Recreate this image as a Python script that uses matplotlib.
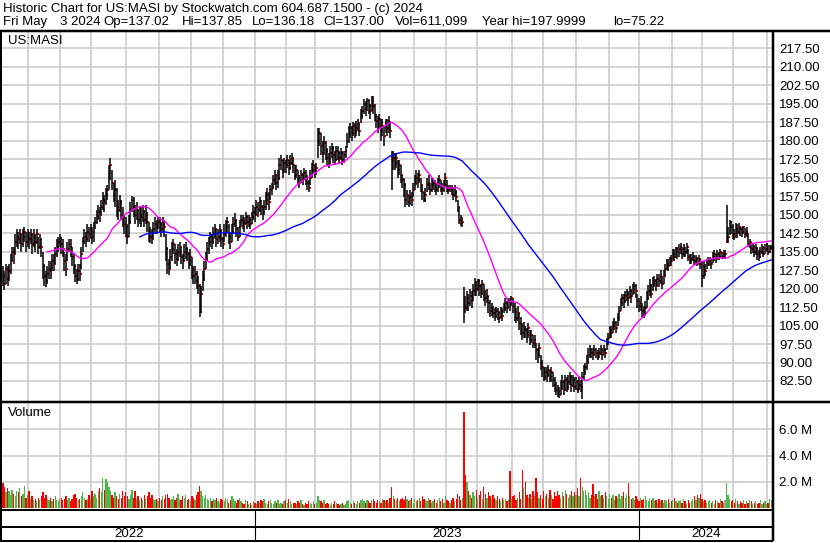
import matplotlib
matplotlib.use('Agg')
import matplotlib.pyplot as plt
import numpy as np
import pandas as pd
from matplotlib.lines import Line2D

W, H = 830, 543
plt.rcParams['font.family'] = ['Liberation Sans', 'DejaVu Sans']

# NYSE holidays in the date span
holidays = ['2022-05-30', '2022-06-20', '2022-07-04', '2022-09-05', '2022-11-24',
            '2022-12-26', '2023-01-02', '2023-01-16', '2023-02-20', '2023-04-07',
            '2023-05-29', '2023-06-19', '2023-07-04', '2023-09-04', '2023-11-23',
            '2023-12-25', '2024-01-01', '2024-01-15', '2024-02-19', '2024-03-29']

# daily close / high / low (May 6 2022 .. May 3 2024)
close = [
    125, 122, 128, 124, 127, 131, 135, 134, 139, 141,
    140, 142, 138, 141, 143, 139, 141, 140, 142, 138,
    141, 139, 142, 137, 140, 137, 129, 125, 123, 126,
    128, 127, 131, 130, 134, 137, 139, 140, 138, 136,
    131, 128, 136, 138, 137, 133, 129, 125, 124, 127,
    126, 134, 139, 141, 140, 143, 142, 144, 141, 143,
    147, 149, 151, 150, 153, 156, 155, 158, 160, 167,
    170, 163, 158, 160, 153, 152, 155, 150, 149, 146,
    145, 141, 147, 152, 156, 153, 150, 152, 148, 150,
    149, 151, 148, 150, 147, 143, 141, 140, 144, 146,
    145, 147, 146, 144, 146, 145, 136, 130, 128, 133,
    136, 138, 134, 132, 135, 137, 133, 131, 135, 136,
    134, 131, 133, 128, 125, 126, 123, 121, 110.6, 118,
    124, 128, 132, 136, 139, 141, 139, 142, 144, 140,
    141, 143, 140, 138, 142, 145, 147, 141, 139, 143,
    146, 148, 144, 141, 145, 148, 147, 146, 149, 147,
    148, 146, 149, 151, 150, 153, 152, 155, 153, 151,
    153, 156, 158, 155, 160, 161, 164, 166, 163, 165,
    170, 172, 168, 171, 170, 172, 169, 171, 173, 170,
    166, 168, 165, 163, 166, 164, 167, 165, 163, 161,
    165, 168, 170, 167, 169, 180, 183, 178, 175, 179,
    176, 173, 171, 175, 177, 174, 172, 176, 175, 173,
    175, 172, 174, 176, 180, 183, 185, 183, 186, 184,
    185, 187, 184, 190, 192, 195, 193, 196, 194, 192,
    196, 194, 190, 188, 186, 189, 184, 186, 182, 187,
    185, 188, 184, 172, 173, 171, 173, 168, 170, 166,
    164, 162, 156, 158, 155, 157, 156, 160, 163, 165,
    164, 166, 162, 159, 156, 158, 162, 163, 160, 162,
    163, 161, 160, 162, 164, 161, 160, 162, 165, 161,
    160, 161, 160, 158, 159, 157, 153, 148, 146.5, 147,
    113, 112, 116, 114, 117, 115, 119, 121, 120, 123,
    121, 118, 122, 119, 116, 117, 114, 111, 112, 110,
    109, 111, 110, 108, 111, 109, 112, 114, 112, 115,
    114, 116, 113, 111, 108, 110, 106, 105, 102, 104,
    103, 101, 104, 99, 101, 98, 99, 95, 93, 96,
    90, 88, 84, 86, 85, 87, 84, 86, 83, 81,
    79, 78, 77, 80, 82, 79, 83, 80, 82, 84,
    81, 83, 80, 82, 79, 81, 80, 84, 86, 88,
    90, 93, 95, 94, 93, 95, 94, 92, 94, 95,
    93, 95, 94, 98, 100, 103, 102, 105, 106, 104,
    108, 111, 114, 116, 115, 117, 118, 116, 119, 117,
    120, 121, 119, 115, 113, 114, 111, 110, 112, 116,
    119, 121, 118, 122, 123, 121, 124, 123, 125, 122,
    125, 128, 130, 129, 132, 131, 134, 133, 136, 135,
    136, 137, 134, 136, 135, 137, 133, 131, 132, 133,
    131, 132, 130, 132, 130, 125, 129, 127, 130, 131,
    132, 130, 133, 134, 132, 134, 133, 135, 133, 134,
    134, 139, 141, 147, 145, 142, 141, 144, 143, 145,
    144, 143, 145, 142, 143, 138, 139, 136, 137, 135,
    136, 134, 133, 135, 137, 134, 136, 138, 135, 136, 137.00,
]
high = [
    129, 127, 130, 129, 130, 134, 137, 137, 142, 144,
    143, 144, 142, 144, 145, 143, 144, 143, 144, 142,
    144, 142, 144, 141, 142, 140, 135, 130, 127, 129,
    131, 131, 134, 134, 137, 140, 141, 142, 141, 140,
    135, 134, 139, 140, 140, 137, 134, 130, 128, 130,
    130, 137, 141, 144, 143, 146, 145, 146, 145, 147,
    149, 152, 154, 153, 156, 159, 158, 161, 162, 170,
    173, 168, 163, 164, 161, 156, 158, 156, 153, 150,
    149, 146, 150, 155, 157.5, 157, 154, 155, 152, 153,
    153, 154, 152, 154, 151, 147, 145, 144, 147, 149,
    148, 149, 149, 147, 149, 148, 142, 137, 132, 136,
    139, 140, 138, 136, 138, 139, 137, 134, 138, 139,
    137, 135, 136, 133, 129, 129, 127, 125, 122, 121,
    127, 131, 135, 139, 141, 143, 142, 145, 146, 144,
    144, 146, 144, 141, 146, 148, 149, 146, 143, 146,
    149, 150.5, 148, 145, 148, 150, 150, 149, 151, 150,
    150, 149, 151, 154, 153, 156, 155, 157, 156, 154,
    156, 159, 161, 159, 162, 163, 166, 168, 166, 168,
    173, 174, 172, 173, 172, 174, 172, 174, 175, 173,
    170, 170, 168, 166, 168, 167, 169, 168, 166, 164,
    168, 171, 172, 170, 171, 185, 185, 183, 180, 182,
    180, 177, 175, 178, 179, 178, 176, 178, 178, 176,
    177, 176, 176, 178, 183, 186, 187, 186, 187.6, 187,
    188, 189, 187, 193, 194, 197, 196, 197.5, 197, 195,
    198, 197.99, 195, 191, 190, 191, 189, 189, 186, 189,
    189, 190, 188, 176, 176, 175, 175, 172, 172, 170,
    166, 165, 163, 160, 158, 160, 159, 163, 166, 168,
    167, 168, 165, 162, 159, 161, 165, 166, 163, 165,
    165, 164, 163, 165, 166, 164, 163, 164, 167, 164,
    162, 162, 162, 161, 162, 160, 156, 153, 150, 149,
    120.7, 117, 119, 118, 120, 119, 122, 124.3, 123, 124,
    124, 122, 123.5, 122, 119, 120, 117, 115.4, 114, 113,
    112, 112.5, 112, 111, 112.5, 112, 114, 116, 115, 116.3,
    116.3, 117, 116, 114, 112, 113, 110, 108.4, 106, 106.5,
    105, 104, 106, 103, 103, 101, 101, 98, 96, 98,
    93, 91, 88, 88, 88, 89, 87, 88, 86, 84,
    82, 81, 80, 83, 85, 83, 85, 84, 85, 86,
    85, 85, 84, 84, 83, 84, 83, 86.3, 89, 90,
    93, 96, 97, 96, 96, 97, 96, 95, 96, 97,
    96, 97, 96, 100, 102, 105, 105, 107, 108, 107,
    110, 113, 116, 118, 118, 119, 120, 119, 121, 120,
    122, 122.5, 122, 118, 116, 117, 114, 113, 115, 119,
    121.5, 124, 122, 124.5, 125, 124, 126, 126, 127.5, 125,
    127.5, 130, 132, 132, 133, 133.5, 136, 136, 137, 137,
    138, 138.5, 137, 138, 137, 138.5, 136, 134, 134, 135,
    133.6, 133.5, 133, 133.5, 132, 131, 131, 130, 132, 133,
    133, 132.5, 135, 135.7, 134, 135.5, 135, 136, 135, 135.5,
    135.5, 154, 145, 148, 147.5, 146, 144, 146.5, 146, 146.5,
    145, 145, 145.5, 144.5, 145, 142.5, 140, 138.5, 138.5, 137.5,
    138, 137, 135.5, 137, 138, 137, 138, 138.5, 137.5, 137.5, 137.85,
]
low = [
    121, 119.5, 122, 121, 123, 126, 131, 130, 134, 137,
    136, 138, 135, 137, 139, 135, 137, 136, 138, 134,
    137, 135, 138, 134, 136, 133, 124, 121, 120.7, 122,
    124, 124, 127, 127, 130, 133, 135, 137, 134, 133,
    127, 125, 131, 135, 133, 129, 126, 122.5, 122, 123,
    123, 128, 135, 138, 137, 139, 139, 140, 138, 139,
    144, 146, 148, 147, 150, 152, 151, 154, 156, 160,
    164, 160, 155, 153, 149, 148, 151, 148, 145, 142,
    141, 138, 141, 146, 151, 149, 146, 148, 145, 146,
    145, 147, 145, 146, 143, 139, 138.5, 138, 140, 142,
    142, 144, 143, 141, 143, 141, 131, 126, 125.5, 128,
    131, 134, 130, 129, 131, 133, 130, 128, 131, 132,
    131, 128, 129, 124, 122, 122, 120, 118, 108.5, 110,
    119, 123, 128, 131, 134, 137, 136, 138, 140, 137,
    138, 139, 137, 136, 139, 141, 143, 138, 136, 139,
    142, 145, 141, 139.5, 141, 145, 144, 143, 146, 144,
    145, 144, 146, 148, 147, 150, 149, 151, 150, 148,
    150, 152, 154, 152, 156, 158, 161, 162, 160, 161,
    164, 168, 165, 167, 167, 169, 166, 168, 170, 167,
    164, 165, 162, 161, 163, 162, 164, 162, 160, 159,
    162, 165, 167, 165, 166, 173, 178, 174, 171, 174,
    172, 170, 169, 171, 173, 171, 170, 172, 172, 171,
    172, 170, 171, 173, 177, 179, 181, 180, 182, 181,
    182, 184, 182, 187, 189, 191, 190, 192, 191, 189,
    192, 191, 188, 185, 183, 185, 180, 182, 178, 183,
    182, 183, 181, 160, 168, 168, 169, 165, 166, 163,
    161, 157, 153, 154, 153, 154, 153.5, 157, 160, 162,
    161, 163, 159, 156, 155, 155, 159, 160, 158, 159,
    160, 159, 158, 159, 161, 159, 158, 159, 161, 159,
    158.5, 159, 158, 156, 157, 155, 151, 146, 145.5, 145,
    106, 110, 111, 111, 113, 112, 115, 117, 117, 119,
    117, 116, 118, 115, 113, 114, 110, 108.6, 109, 108,
    107, 108, 107.3, 106, 108, 107, 110, 111, 110, 112,
    111, 113, 110, 107, 106, 107, 103, 101, 99, 100,
    100, 98, 100, 97, 98, 96, 96, 91, 90, 92,
    87, 84, 82.5, 83, 82, 84, 82, 82, 80, 78,
    77, 76, 75.5, 77, 79, 77, 79, 78, 79, 81,
    78, 80, 78, 79, 77.5, 79, 78, 75.22, 83, 85,
    87, 90, 92, 92, 91, 93, 92, 91, 92, 93,
    91, 93, 92, 95, 97, 100, 100, 102, 103, 102,
    105, 107, 111, 113, 112, 114, 115, 113, 116, 114,
    117.5, 118, 116, 112, 110.5, 111, 108.5, 108, 109, 112,
    115.5, 117, 116, 119, 120.7, 119, 121, 120.7, 122, 120,
    122, 125, 127.5, 127, 129, 129, 131.6, 131, 133, 132,
    133, 134, 132, 133, 133, 134, 131, 130, 130, 131,
    129.6, 130, 129, 130, 128, 120.7, 124, 125, 128, 129,
    129, 128, 130.5, 131, 130.5, 132, 131.5, 132.5, 132, 132,
    132, 138.4, 139, 141.7, 142, 140, 139.7, 141, 140.5, 142,
    141.5, 141, 142, 140.5, 141, 137, 136.5, 134, 134.5, 133,
    133.5, 131.6, 131, 132.5, 134, 133, 134, 135, 133.5, 134.5, 136.18,
]
# daily volume, millions of shares
volume = [
    1.9, 1.6, 1.2, 1.5, 1.3, 1.0, 1.4, 1.1, 0.9, 1.3,
    1.2, 1.5, 0.9, 1.1, 1.7, 0.8, 1.0, 1.3, 0.7, 0.9,
    0.6, 0.7, 0.5, 0.8, 0.6, 0.9, 1.2, 0.8, 1.0, 0.7,
    0.6, 0.8, 0.5, 0.7, 0.9, 0.6, 0.5, 0.7, 0.8, 0.6,
    0.7, 0.9, 0.6, 0.8, 0.5, 0.7, 1.0, 1.1, 0.8, 0.6,
    0.7, 0.9, 1.2, 0.8, 0.6, 0.7, 1.0, 0.8, 1.3, 0.9,
    1.1, 0.8, 1.3, 1.5, 1.2, 2.3, 1.4, 2.2, 2.0, 1.6,
    1.3, 1.0, 0.8, 1.2, 0.9, 0.7, 1.1, 0.8, 1.3, 0.9,
    1.2, 0.9, 0.7, 1.0, 1.4, 0.8, 1.3, 0.7, 0.9, 0.6,
    0.8, 0.6, 1.0, 0.7, 0.9, 1.2, 0.8, 1.0, 0.7, 0.6,
    0.7, 0.5, 0.8, 0.6, 0.9, 0.7, 1.0, 1.1, 0.8, 0.6,
    0.7, 0.9, 0.6, 0.8, 1.1, 0.7, 0.6, 0.9, 0.8, 1.0,
    0.6, 0.7, 0.5, 0.9, 0.8, 0.6, 1.0, 1.2, 1.7, 1.3,
    0.9, 0.8, 1.0, 0.7, 0.6, 0.8, 0.5, 0.7, 0.6, 0.8,
    0.5, 0.4, 0.7, 0.6, 0.5, 0.8, 0.7, 0.4, 0.6, 0.9,
    0.7, 0.5, 0.4, 0.6, 0.8, 0.5, 0.4, 0.3, 0.6, 0.5,
    0.3, 0.4, 0.2, 0.5, 0.4, 0.3, 0.5, 0.4, 0.6, 0.5,
    0.7, 0.4, 0.3, 0.5, 0.6, 0.4, 0.3, 0.5, 0.4, 0.6,
    0.3, 0.4, 0.3, 0.5, 0.6, 0.4, 0.7, 0.5, 0.3, 0.4,
    0.4, 0.3, 0.5, 0.4, 0.6, 0.3, 0.2, 0.4, 0.3, 0.5,
    0.4, 0.3, 0.5, 0.3, 0.4, 0.9, 0.6, 0.5, 0.4, 0.6,
    0.3, 0.4, 0.3, 0.2, 0.4, 0.3, 0.5, 0.4, 0.3, 0.2,
    0.3, 0.4, 0.2, 0.3, 0.5, 0.6, 0.4, 0.3, 0.5, 0.4,
    0.3, 0.5, 0.4, 0.6, 0.7, 0.5, 0.4, 0.6, 0.5, 0.4,
    0.6, 0.7, 0.5, 0.4, 0.6, 0.5, 0.4, 0.7, 0.6, 0.5,
    0.6, 0.4, 0.8, 1.6, 0.9, 0.7, 0.6, 0.8, 0.5, 0.7,
    0.8, 0.6, 0.9, 0.7, 0.5, 0.6, 0.8, 0.4, 0.7, 0.5,
    0.6, 0.8, 0.5, 0.9, 0.7, 0.6, 0.5, 0.8, 0.6, 0.4,
    0.5, 0.7, 0.4, 0.6, 0.8, 0.5, 0.7, 0.4, 0.9, 0.6,
    0.5, 0.4, 0.6, 0.8, 0.5, 0.7, 1.1, 0.9, 0.6, 0.8,
    7.3, 2.5, 2.0, 1.3, 1.0, 0.8, 1.2, 0.9, 1.4, 0.8,
    1.0, 1.3, 0.7, 1.6, 1.1, 0.8, 1.2, 0.9, 0.7, 1.0,
    0.8, 0.6, 0.9, 0.7, 0.5, 0.8, 0.6, 0.7, 0.5, 0.6,
    2.8, 0.7, 0.9, 1.0, 0.6, 0.8, 1.2, 0.7, 2.9, 1.5,
    2.0, 1.0, 0.8, 1.1, 0.7, 1.3, 0.9, 2.3, 1.2, 0.8,
    1.0, 0.7, 1.3, 0.9, 1.1, 0.8, 1.4, 1.0, 0.7, 1.2,
    0.9, 1.3, 1.0, 0.8, 1.2, 0.9, 1.4, 1.1, 0.8, 1.0,
    1.3, 0.9, 1.2, 1.0, 1.5, 0.9, 2.3, 1.6, 1.3, 1.4,
    1.0, 1.2, 0.8, 1.0, 1.8, 0.9, 1.1, 0.7, 1.3, 0.9,
    1.0, 0.8, 1.2, 0.9, 0.7, 1.1, 0.8, 1.0, 0.6, 0.9,
    0.8, 1.1, 0.7, 0.9, 1.2, 0.8, 1.0, 1.9, 0.9, 0.7,
    0.8, 0.6, 0.9, 0.7, 0.5, 0.8, 0.6, 0.7, 0.9, 0.6,
    0.5, 0.7, 0.6, 0.8, 0.5, 0.6, 0.4, 0.7, 0.5, 0.6,
    0.4, 0.6, 0.5, 0.7, 0.4, 0.5, 0.6, 0.8, 0.5, 0.4,
    0.5, 0.6, 0.4, 0.7, 0.5, 0.3, 0.6, 0.4, 0.5, 0.7,
    0.9, 0.6, 1.0, 0.8, 1.1, 0.7, 0.5, 0.6, 0.4, 0.5,
    0.6, 0.4, 0.5, 0.3, 0.6, 0.5, 0.4, 0.7, 0.5, 0.4,
    0.6, 1.9, 1.0, 0.7, 0.5, 0.6, 0.4, 0.7, 0.5, 0.3,
    0.5, 0.4, 0.6, 0.3, 0.5, 0.4, 0.6, 0.5, 0.3, 0.4,
    0.5, 0.3, 0.4, 0.6, 0.3, 0.4, 0.5, 0.3, 0.4, 0.7, 0.61,
]

price_ticks = [82.5, 90, 97.5, 105, 112.5, 120, 127.5, 135, 142.5, 150,
               157.5, 165, 172.5, 180, 187.5, 195, 202.5, 210, 217.5]
vol_ticks = [2, 4, 6]
vol_labels = ['2.0 M', '4.0 M', '6.0 M']

dates = pd.bdate_range('2022-05-06', '2024-05-03', freq='C', holidays=holidays)
n = min(len(dates), len(close), len(high), len(low), len(volume))
df = pd.DataFrame({'close': close[:n], 'high': high[:n], 'low': low[:n],
                   'vol': volume[:n]}, index=dates[:n])
idx = np.arange(n)
ma_fast = df['close'].rolling(30).mean()
ma_slow = df['close'].rolling(90).mean()

chg = df['close'].diff().fillna(-1)
vol_colors = np.where(chg > 0, '#4cb848', np.where(chg < 0, '#ff0000', '#a0a0a0'))

months = df.index.to_period('M')
month_starts = idx[1:][months[1:] != months[:-1]] - 0.7
years = df.index.year
year_starts = idx[1:][years[1:] != years[:-1]] - 0.7


def box(x0, y0, x1, y1):
    return [x0 / W, 1 - y1 / H, (x1 - x0) / W, (y1 - y0) / H]


def fline(x0, y0, x1, y1, px=2.0, color='black'):
    fig.add_artist(Line2D([x0 / W, x1 / W], [1 - y0 / H, 1 - y1 / H],
                          transform=fig.transFigure, color=color,
                          linewidth=px * 0.72, solid_capstyle='butt'))


fig = plt.figure(figsize=(W / 100, H / 100), dpi=100)
fig.patch.set_facecolor('white')

xlim = (-0.6, n + 0.2)
grid_c = '#c8c8c8'
fs = 9.5

# price panel
ax = fig.add_axes(box(2, 32, 773, 401))
ax.set_xlim(*xlim)
ax.set_ylim(74.38, 224.11)
for t in price_ticks:
    ax.axhline(t, color=grid_c, lw=1.1, zorder=0)
for m in month_starts:
    ax.axvline(m, color=grid_c, lw=1.1, zorder=0)
# close marks sit beside each bar, partly hidden by the neighbouring bar
ax.plot(idx + 0.6, df['close'], 's', ms=1.7, color='red', mew=0, zorder=1.5)
ax.vlines(idx, df['low'], df['high'], color='black', lw=1.1, zorder=2)
ax.plot(idx, ma_fast, color='#ff00ff', lw=1.0, zorder=3)
ax.plot(idx, ma_slow, color='#0000ff', lw=1.0, zorder=3)
ax.set_xticks([])
ax.set_yticks(price_ticks)
ax.set_yticklabels([f'{t:.2f}' for t in price_ticks])
ax.yaxis.tick_right()
ax.tick_params(axis='y', length=0, pad=4.5, labelsize=fs, labelcolor='#000000')
for s in ax.spines.values():
    s.set_visible(False)
ax.text(6 / 771, 1 - 9 / 369, 'US:MASI', transform=ax.transAxes,
        fontsize=fs, va='center', ha='left')

# volume panel
axv = fig.add_axes(box(2, 402, 773, 508))
axv.set_xlim(*xlim)
axv.set_ylim(0, 8.1)
for t in vol_ticks:
    axv.axhline(t, color=grid_c, lw=1.1, zorder=0)
for m in month_starts:
    axv.axvline(m, color=grid_c, lw=1.1, zorder=0)
axv.bar(idx, df['vol'], width=0.85, color=vol_colors, linewidth=0, zorder=2)
axv.set_xticks([])
axv.set_yticks(vol_ticks)
axv.set_yticklabels(vol_labels)
axv.yaxis.tick_right()
axv.tick_params(axis='y', length=0, pad=4.5, labelsize=fs)
for s in axv.spines.values():
    s.set_visible(False)
axv.text(6 / 771, 1 - 11 / 106, 'Volume', transform=axv.transAxes,
         fontsize=fs, va='center', ha='left')

# date strip
axb = fig.add_axes(box(2, 509, 773, 541))
axb.set_xlim(*xlim)
axb.set_ylim(0, 1)
axb.axis('off')
for y in year_starts:
    axb.axvline(y, color='black', lw=0.8)
edges = [xlim[0]] + list(year_starts) + [xlim[1]]
for k, yr in enumerate(sorted(set(years))):
    axb.text((edges[k] + edges[k + 1]) / 2, 7 / 32, str(yr), ha='center',
             va='center', fontsize=fs)

# frame lines
fline(0, 31, W, 31, 2.5)
fline(1, 31, 1, 541, 2.0)
fline(773, 31, 773, 541, 2.5)
fline(0, 401.5, W, 401.5, 2.5)
fline(0, 509.5, 773, 509.5, 2.0)
fline(0, 527, 773, 527, 2.0)
fline(0, 541, 773, 541, 2.0)

# header
fig.text(3 / W, 1 - 9 / H,
         'Historic Chart for US:MASI by Stockwatch.com 604.687.1500 - (c) 2024',
         fontsize=fs, va='center', ha='left')
hdr = [(3, 'Fri May'), (60, '3 2024'), (103, 'Op=137.02'), (182, 'Hi=137.85'),
       (252, 'Lo=136.18'), (323, 'Cl=137.00'), (395, 'Vol=611,099'),
       (482, 'Year hi=197.9999'), (613, 'lo=75.22')]
for x, s in hdr:
    fig.text(x / W, 1 - 22 / H, s, fontsize=fs, va='center', ha='left')

fig.savefig('out.png', dpi=100, facecolor='white')
